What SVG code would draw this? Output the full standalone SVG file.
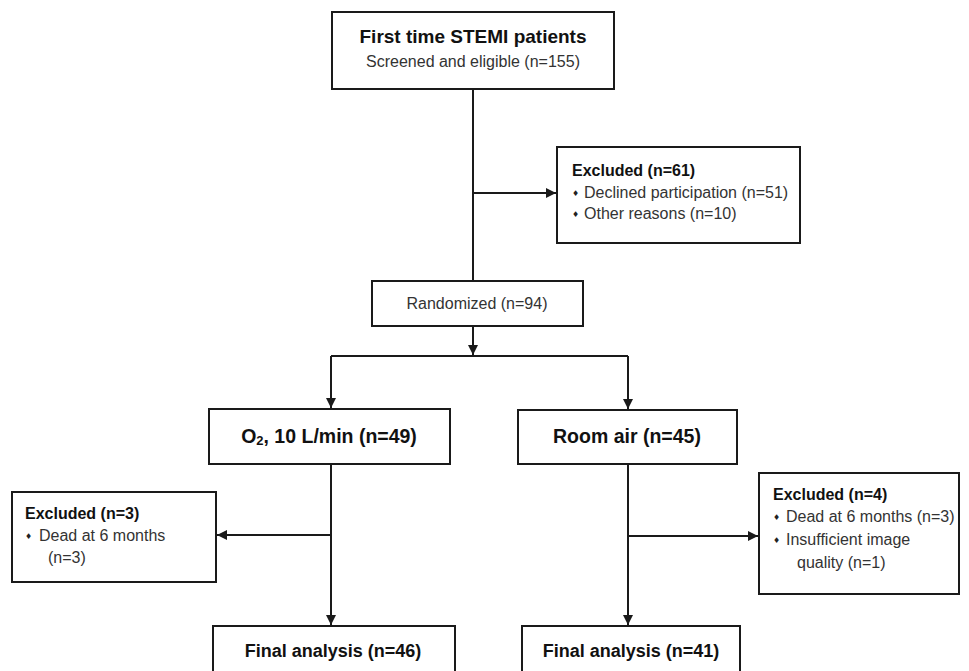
<svg xmlns="http://www.w3.org/2000/svg" width="969" height="671" viewBox="0 0 969 671">
<defs>
<marker id="ah" viewBox="0 0 10 10" refX="10" refY="5" markerWidth="10" markerHeight="10" markerUnits="userSpaceOnUse" orient="auto">
<path d="M0,0 L10,5 L0,10 z" fill="#1a1a1a"/>
</marker>
<style>
.box{fill:#fff;stroke:#1a1a1a;stroke-width:2}
.ln{fill:none;stroke:#1a1a1a;stroke-width:2}
.b{font-family:"Liberation Sans",Arial,sans-serif;font-weight:bold;fill:#111}
.r{font-family:"Liberation Sans",Arial,sans-serif;fill:#333;font-size:16px}
.c{text-anchor:middle}
.bul{font-family:"DejaVu Sans",sans-serif;fill:#222;font-size:8px}
</style>
</defs>
<rect width="969" height="671" fill="#fff"/>
<g id="connectors">
<path class="ln" d="M473,89 V281"/>
<path class="ln" d="M473,193 H556" marker-end="url(#ah)"/>
<path class="ln" d="M473,326 V355" marker-end="url(#ah)"/>
<path class="ln" d="M331,356 H628"/>
<path class="ln" d="M331,356 V408" marker-end="url(#ah)"/>
<path class="ln" d="M628,356 V409" marker-end="url(#ah)"/>
<path class="ln" d="M331,464 V625" marker-end="url(#ah)"/>
<path class="ln" d="M331,535 H217" marker-end="url(#ah)"/>
<path class="ln" d="M628,464 V625" marker-end="url(#ah)"/>
<path class="ln" d="M628,536 H758" marker-end="url(#ah)"/>
</g>
<g id="screened">
<rect class="box" x="332" y="12" width="282" height="77"/>
<text class="b c" x="473" y="43" font-size="19px">First time STEMI patients</text>
<text class="r c" x="473" y="67">Screened and eligible (n=155)</text>
</g>
<g id="excluded61">
<rect class="box" x="557" y="147" width="243" height="96"/>
<text class="b" x="572" y="176" font-size="16px">Excluded (n=61)</text>
<text class="bul" x="572" y="196">♦</text>
<text class="r" x="584" y="198">Declined participation (n=51)</text>
<text class="bul" x="572" y="217">♦</text>
<text class="r" x="584" y="219">Other reasons (n=10)</text>
</g>
<g id="randomized">
<rect class="box" x="372" y="281" width="211" height="45"/>
<text class="r c" x="477" y="309" font-size="16.5px">Randomized (n=94)</text>
</g>
<g id="oxygen">
<rect class="box" x="209" y="409" width="241" height="55"/>
<text class="b c" x="329" y="443" font-size="19.5px">O<tspan font-size="13px" dy="2">2</tspan><tspan dy="-2">, 10 L/min (n=49)</tspan></text>
</g>
<g id="roomair">
<rect class="box" x="518" y="410" width="219" height="54"/>
<text class="b c" x="627" y="443" font-size="19.5px">Room air (n=45)</text>
</g>
<g id="excluded3">
<rect class="box" x="12" y="492" width="204" height="90"/>
<text class="b" x="25" y="519" font-size="16px">Excluded (n=3)</text>
<text class="bul" x="25" y="539">♦</text>
<text class="r" x="39" y="541">Dead at 6 months</text>
<text class="r" x="48" y="563">(n=3)</text>
</g>
<g id="excluded4">
<rect class="box" x="759" y="473" width="200" height="121"/>
<text class="b" x="773" y="500" font-size="16px">Excluded (n=4)</text>
<text class="bul" x="773" y="520">♦</text>
<text class="r" x="786" y="522" font-size="15.6px">Dead at 6 months (n=3)</text>
<text class="bul" x="773" y="543">♦</text>
<text class="r" x="786" y="545" font-size="15.6px">Insufficient image</text>
<text class="r" x="797" y="568" font-size="15.6px">quality (n=1)</text>
</g>
<g id="final46">
<rect class="box" x="213" y="626" width="242" height="60"/>
<text class="b c" x="333" y="657" font-size="18px">Final analysis (n=46)</text>
</g>
<g id="final41">
<rect class="box" x="522" y="626" width="218" height="60"/>
<text class="b c" x="631" y="657" font-size="18px">Final analysis (n=41)</text>
</g>
</svg>
